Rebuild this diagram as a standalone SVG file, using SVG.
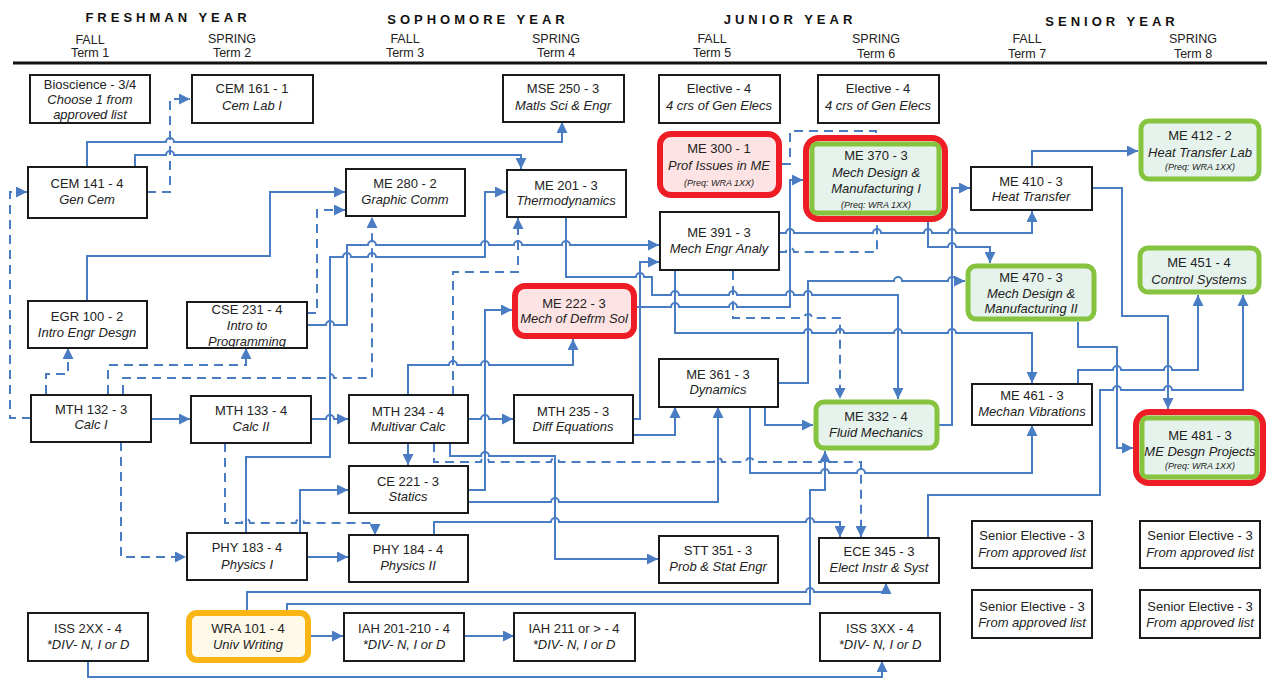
<svg xmlns="http://www.w3.org/2000/svg" width="1267" height="682" viewBox="0 0 1267 682">
<style>
.b{fill:#fff;stroke:#1a1a1a;stroke-width:2}
.red{fill:#fde3e3;stroke:#ee1c24;stroke-width:6}
.grn{fill:#e6f2ec;stroke:#86c440;stroke-width:5}
.org{fill:#fff9ea;stroke:#f8b514;stroke-width:6}
text{font-family:"Liberation Sans",Arial,sans-serif;font-size:13px;fill:#222;text-anchor:middle}
.i{font-style:italic}
.p{font-size:9px;font-style:italic}
.h{font-weight:bold;letter-spacing:4px;font-size:13px;fill:#111}
.tm{font-size:12.5px}
.c{fill:none;stroke:#4a7cc4;stroke-width:2;marker-end:url(#a)}
.n{marker-end:none}
.d{stroke-dasharray:9 6}
</style>
<defs>
<marker id="a" viewBox="0 0 10 10" refX="10" refY="5" markerWidth="5.5" markerHeight="5.5" orient="auto" markerUnits="strokeWidth">
<path d="M0,0L10,5L0,10z" fill="#4a7cc4"/>
</marker>
</defs>
<rect width="1267" height="682" fill="#fff"/>
<g id="header">
<text class="h" x="168" y="22">FRESHMAN YEAR</text>
<text class="h" x="478" y="24">SOPHOMORE YEAR</text>
<text class="h" x="790" y="24">JUNIOR YEAR</text>
<text class="h" x="1112" y="26">SENIOR YEAR</text>
<text class="tm" x="90" y="44">FALL</text><text class="tm" x="90" y="57">Term 1</text>
<text class="tm" x="232" y="43">SPRING</text><text class="tm" x="232" y="57">Term 2</text>
<text class="tm" x="405" y="43">FALL</text><text class="tm" x="405" y="57">Term 3</text>
<text class="tm" x="556" y="43">SPRING</text><text class="tm" x="556" y="57">Term 4</text>
<text class="tm" x="712" y="43">FALL</text><text class="tm" x="712" y="57">Term 5</text>
<text class="tm" x="876" y="43">SPRING</text><text class="tm" x="876" y="58">Term 6</text>
<text class="tm" x="1027" y="43">FALL</text><text class="tm" x="1027" y="58">Term 7</text>
<text class="tm" x="1193" y="43">SPRING</text><text class="tm" x="1193" y="58">Term 8</text>
<line x1="13" y1="63" x2="1267" y2="63" stroke="#111" stroke-width="3"/>
</g>
<g id="connectors">
<path class="c d" d="M147,192H170V99H190"/>
<path class="c" d="M87,166V142H166a4,4 0 0 1 8,0H562V122"/>
<path class="c" d="M135,166V155H166a4,4 0 0 1 8,0H521V169"/>
<path class="c" d="M87,301V256H270V192H345"/>
<path class="c d" d="M307,313H317V210H345"/>
<path class="c" d="M307,325H326a4,4 0 0 1 8,0H347V245H368a4,4 0 0 1 8,0H481a4,4 0 0 1 8,0H514a4,4 0 0 1 8,0H562a4,4 0 0 1 8,0H659"/>
<path class="c" d="M246,533V457H330V257H343a4,4 0 0 1 8,0H368a4,4 0 0 1 8,0H485V192H506"/>
<path class="c d" d="M123,394V378H326a4,4 0 0 1 8,0H372V217"/>
<path class="c d" d="M108,394V365H246V348"/>
<path class="c d" d="M46,394V374H68V348"/>
<path class="c d" d="M31,418H10V192H27"/>
<path class="c" d="M151,419H190"/>
<path class="c d" d="M121,442V557H186"/>
<path class="c" d="M311,419H326a4,4 0 0 1 8,0H348"/>
<path class="c d" d="M225,443V523H242a4,4 0 0 1 8,0H296a4,4 0 0 1 8,0H375V535"/>
<path class="c d" d="M453,395V272H518V218"/>
<path class="c" d="M408,395V365H449a4,4 0 0 1 8,0H481a4,4 0 0 1 8,0H573V339"/>
<path class="c" d="M468,490H485V310H512"/>
<path class="c" d="M468,419H481a4,4 0 0 1 8,0H513"/>
<path class="c" d="M408,443V465"/>
<path class="c d" d="M434,443V462H481a4,4 0 0 1 8,0H551a4,4 0 0 1 8,0H714a4,4 0 0 1 8,0H746a4,4 0 0 1 8,0H821a4,4 0 0 1 8,0H861V537"/>
<path class="c" d="M450,443V456H481a4,4 0 0 1 8,0H555V559H658"/>
<path class="c" d="M468,502H551a4,4 0 0 1 8,0H718V407"/>
<path class="c" d="M633,435H675V407"/>
<path class="c" d="M633,419H640V262H659"/>
<path class="c" d="M566,218V277H636a4,4 0 0 1 8,0H652V295H671a4,4 0 0 1 8,0H729a4,4 0 0 1 8,0H786a4,4 0 0 1 8,0H804a4,4 0 0 1 8,0H898V399"/>
<path class="c" d="M637,307H671a4,4 0 0 1 8,0H729a4,4 0 0 1 8,0H790V180H803"/>
<path class="c d n" d="M782,164H790V131H876V136"/>
<path class="c" d="M779,233H786a4,4 0 0 1 8,0H873a4,4 0 0 1 8,0H924a4,4 0 0 1 8,0H948a4,4 0 0 1 8,0H1032V211"/>
<path class="c d n" d="M779,252H786a4,4 0 0 1 8,0H877V222"/>
<path class="c" d="M928,222V247H948a4,4 0 0 1 8,0H990V263"/>
<path class="c" d="M938,425H952V188H970"/>
<path class="c" d="M1093,188H1122V316H1168V409"/>
<path class="c" d="M1032,166V151H1138"/>
<path class="c" d="M675,271V333H804a4,4 0 0 1 8,0H836a4,4 0 0 1 8,0H894a4,4 0 0 1 8,0H948a4,4 0 0 1 8,0H1032V383"/>
<path class="c" d="M778,383H808V281H894a4,4 0 0 1 8,0H948a4,4 0 0 1 8,0H965"/>
<path class="c d" d="M733,271V318H804a4,4 0 0 1 8,0H840V399"/>
<path class="c" d="M750,407V473H821a4,4 0 0 1 8,0H857a4,4 0 0 1 8,0H1032V425"/>
<path class="c" d="M765,407V425H813"/>
<path class="c" d="M287,610V604H810V490H825V451"/>
<path class="c" d="M247,610V592H806a4,4 0 0 1 8,0H886V583"/>
<path class="c" d="M434,535V522H551a4,4 0 0 1 8,0H806a4,4 0 0 1 8,0H840V537"/>
<path class="c" d="M307,557H348"/>
<path class="c" d="M300,533V490H348"/>
<path class="c" d="M928,537V495H1100V390H1113a4,4 0 0 1 8,0H1164a4,4 0 0 1 8,0H1243V295"/>
<path class="c" d="M1078,322V347H1117V448H1133"/>
<path class="c" d="M1078,383V370H1113a4,4 0 0 1 8,0H1164a4,4 0 0 1 8,0H1198V295"/>
<path class="c" d="M88,661V677H882V661"/>
<path class="c" d="M311,636H343"/>
<path class="c" d="M464,636H514"/>
</g>
<g id="bio"><rect class="b" x="30" y="75" width="120" height="48"/><text x="90" y="89">Bioscience - 3/4</text><text class="i" x="90" y="104">Choose 1 from</text><text class="i" x="90" y="119">approved list</text></g>
<g id="cem161"><rect class="b" x="192" y="75" width="121" height="48"/><text x="252" y="93">CEM 161 - 1</text><text class="i" x="252" y="110">Cem Lab I</text></g>
<g id="mse250"><rect class="b" x="503" y="75" width="121" height="47"/><text x="563" y="93">MSE 250 - 3</text><text class="i" x="563" y="110">Matls Sci &amp; Engr</text></g>
<g id="elec5"><rect class="b" x="659" y="75" width="121" height="48"/><text x="719" y="93">Elective - 4</text><text class="i" x="719" y="110">4 crs of Gen Elecs</text></g>
<g id="elec6"><rect class="b" x="818" y="75" width="121" height="48"/><text x="878" y="93">Elective - 4</text><text class="i" x="878" y="110">4 crs of Gen Elecs</text></g>
<g id="me300"><rect class="red" x="660" y="134" width="119" height="61" rx="11"/><text x="719" y="153">ME 300 - 1</text><text class="i" x="719" y="170">Prof Issues in ME</text><text class="p" x="719" y="186">(Preq: WRA 1XX)</text></g>
<g id="me370"><rect class="red" x="806" y="138" width="139" height="81" rx="13"/><rect class="grn" x="812" y="144" width="127" height="69" rx="5"/><text x="876" y="160">ME 370 - 3</text><text class="i" x="876" y="177">Mech Design &amp;</text><text class="i" x="876" y="193">Manufacturing I</text><text class="p" x="876" y="208">(Preq: WRA 1XX)</text></g>
<g id="me412"><rect class="grn" x="1141" y="121" width="118" height="58" rx="8"/><text x="1200" y="140">ME 412 - 2</text><text class="i" x="1200" y="157">Heat Transfer Lab</text><text class="p" x="1200" y="170">(Preq: WRA 1XX)</text></g>
<g id="cem141"><rect class="b" x="28" y="167" width="119" height="51"/><text x="87" y="188">CEM 141 - 4</text><text class="i" x="87" y="204">Gen Cem</text></g>
<g id="me280"><rect class="b" x="346" y="169" width="119" height="47"/><text x="405" y="188">ME 280 - 2</text><text class="i" x="405" y="204">Graphic Comm</text></g>
<g id="me201"><rect class="b" x="507" y="170" width="119" height="47"/><text x="566" y="190">ME 201 - 3</text><text class="i" x="566" y="205">Thermodynamics</text></g>
<g id="me391"><rect class="b" x="660" y="212" width="119" height="58"/><text x="719" y="237">ME 391 - 3</text><text class="i" x="719" y="253">Mech Engr Analy</text></g>
<g id="me410"><rect class="b" x="971" y="167" width="121" height="43"/><text x="1031" y="186">ME 410 - 3</text><text class="i" x="1031" y="201">Heat Transfer</text></g>
<g id="me470"><rect class="grn" x="968" y="266" width="126" height="53" rx="8"/><text x="1031" y="282">ME 470 - 3</text><text class="i" x="1031" y="298">Mech Design &amp;</text><text class="i" x="1031" y="313">Manufacturing II</text></g>
<g id="me451"><rect class="grn" x="1140" y="248" width="119" height="44" rx="8"/><text x="1199" y="267">ME 451 - 4</text><text class="i" x="1199" y="284">Control Systems</text></g>
<g id="egr100"><rect class="b" x="28" y="301" width="119" height="47"/><text x="87" y="321">EGR 100 - 2</text><text class="i" x="87" y="337">Intro Engr Desgn</text></g>
<g id="cse231"><rect class="b" x="187" y="302" width="120" height="46"/><text x="247" y="314">CSE 231 - 4</text><text class="i" x="247" y="330">Intro to</text><text class="i" x="247" y="346">Programming</text></g>
<g id="me222"><rect class="red" x="515" y="286" width="119" height="50" rx="10"/><text x="574" y="308">ME 222 - 3</text><text class="i" x="574" y="323">Mech of Defrm Sol</text></g>
<g id="me361"><rect class="b" x="659" y="359" width="119" height="48"/><text x="718" y="379">ME 361 - 3</text><text class="i" x="718" y="394">Dynamics</text></g>
<g id="me461"><rect class="b" x="972" y="384" width="120" height="41"/><text x="1032" y="400">ME 461 - 3</text><text class="i" x="1032" y="416">Mechan Vibrations</text></g>
<g id="me332"><rect class="grn" x="816" y="402" width="121" height="46" rx="8"/><text x="876" y="421">ME 332 - 4</text><text class="i" x="876" y="437">Fluid Mechanics</text></g>
<g id="me481"><rect class="red" x="1136" y="412" width="127" height="71" rx="13"/><rect class="grn" x="1142" y="418" width="115" height="59" rx="5"/><text x="1200" y="440">ME 481 - 3</text><text class="i" x="1200" y="456">ME Desgn Projects</text><text class="p" x="1200" y="469">(Preq: WRA 1XX)</text></g>
<g id="mth132"><rect class="b" x="31" y="395" width="120" height="47"/><text x="91" y="414">MTH 132 - 3</text><text class="i" x="91" y="429">Calc I</text></g>
<g id="mth133"><rect class="b" x="191" y="396" width="120" height="47"/><text x="251" y="415">MTH 133 - 4</text><text class="i" x="251" y="431">Calc II</text></g>
<g id="mth234"><rect class="b" x="349" y="395" width="119" height="48"/><text x="408" y="416">MTH 234 - 4</text><text class="i" x="408" y="431">Multivar Calc</text></g>
<g id="mth235"><rect class="b" x="514" y="395" width="119" height="48"/><text x="573" y="416">MTH 235 - 3</text><text class="i" x="573" y="431">Diff Equations</text></g>
<g id="ce221"><rect class="b" x="349" y="466" width="119" height="47"/><text x="408" y="486">CE 221 - 3</text><text class="i" x="408" y="501">Statics</text></g>
<g id="phy183"><rect class="b" x="187" y="533" width="120" height="47"/><text x="247" y="552">PHY 183 - 4</text><text class="i" x="247" y="569">Physics I</text></g>
<g id="phy184"><rect class="b" x="349" y="535" width="119" height="47"/><text x="408" y="554">PHY 184 - 4</text><text class="i" x="408" y="570">Physics II</text></g>
<g id="stt351"><rect class="b" x="659" y="536" width="119" height="47"/><text x="718" y="555">STT 351 - 3</text><text class="i" x="718" y="571">Prob &amp; Stat Engr</text></g>
<g id="ece345"><rect class="b" x="819" y="538" width="120" height="45"/><text x="879" y="556">ECE 345 - 3</text><text class="i" x="879" y="572">Elect Instr &amp; Syst</text></g>
<g id="se7a"><rect class="b" x="972" y="521" width="120" height="47"/><text x="1032" y="540">Senior Elective - 3</text><text class="i" x="1032" y="557">From approved list</text></g>
<g id="se8a"><rect class="b" x="1140" y="521" width="120" height="47"/><text x="1200" y="540">Senior Elective - 3</text><text class="i" x="1200" y="557">From approved list</text></g>
<g id="se7b"><rect class="b" x="972" y="590" width="120" height="48"/><text x="1032" y="611">Senior Elective - 3</text><text class="i" x="1032" y="627">From approved list</text></g>
<g id="se8b"><rect class="b" x="1140" y="590" width="120" height="48"/><text x="1200" y="611">Senior Elective - 3</text><text class="i" x="1200" y="627">From approved list</text></g>
<g id="iss2xx"><rect class="b" x="28" y="613" width="120" height="48"/><text x="88" y="633">ISS 2XX - 4</text><text class="i" x="88" y="649">*DIV- N, I or D</text></g>
<g id="wra101"><rect class="org" x="189" y="613" width="119" height="47" rx="8"/><text x="248" y="633">WRA 101 - 4</text><text class="i" x="248" y="649">Univ Writing</text></g>
<g id="iah201"><rect class="b" x="344" y="613" width="120" height="48"/><text x="404" y="633">IAH 201-210 - 4</text><text class="i" x="404" y="649">*DIV- N, I or D</text></g>
<g id="iah211"><rect class="b" x="514" y="613" width="121" height="48"/><text x="574" y="633">IAH 211 or &gt; - 4</text><text class="i" x="574" y="649">*DIV- N, I or D</text></g>
<g id="iss3xx"><rect class="b" x="820" y="613" width="120" height="48"/><text x="880" y="633">ISS 3XX - 4</text><text class="i" x="880" y="649">*DIV- N, I or D</text></g>
</svg>
